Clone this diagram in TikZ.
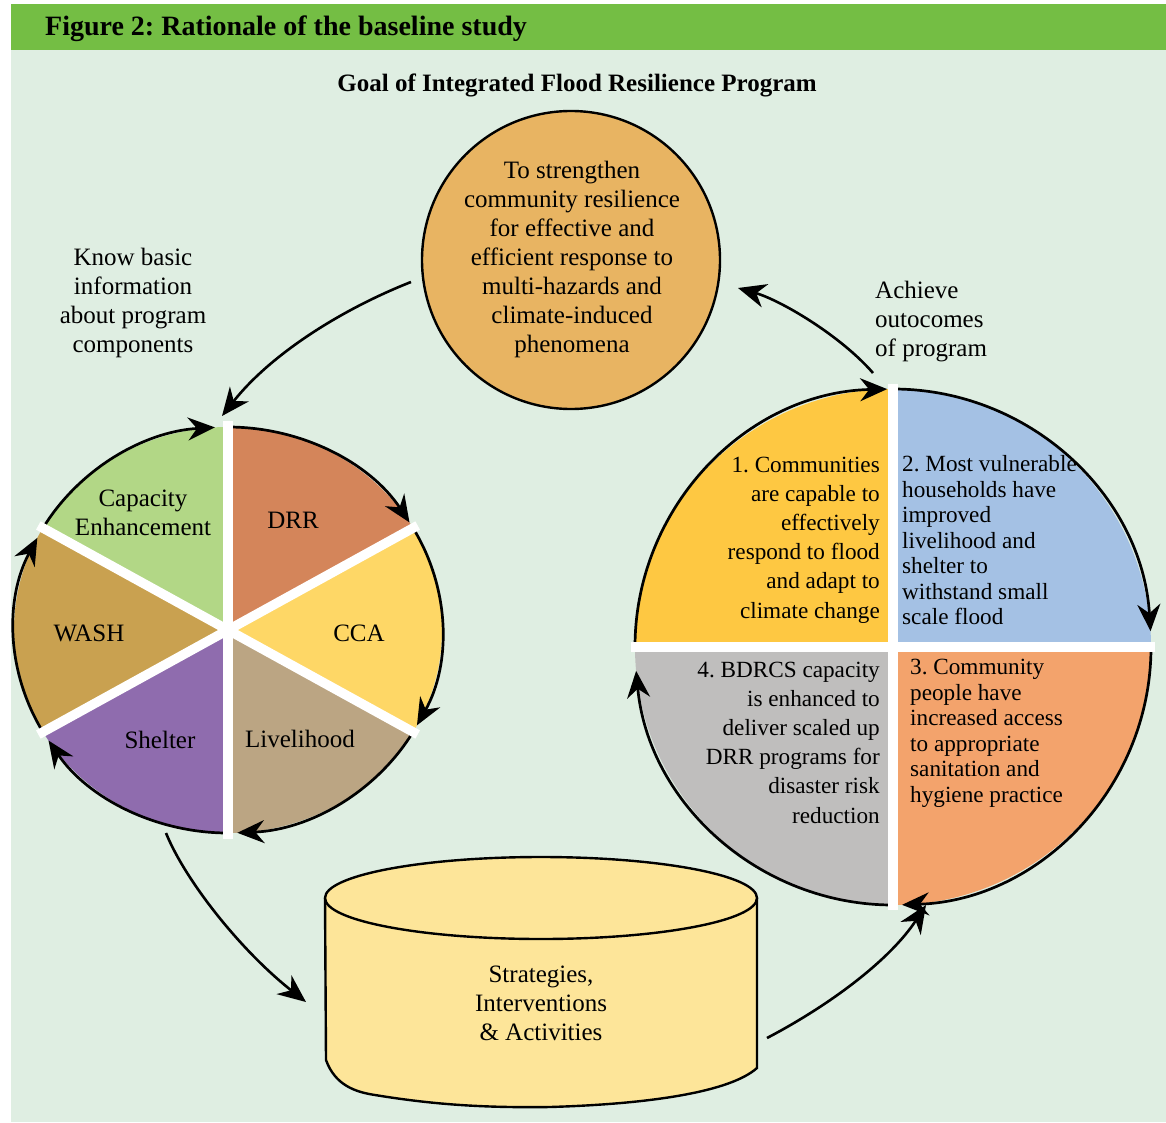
\documentclass[tikz,border=0pt]{standalone}
\usepackage{fontspec}
\setmainfont{Liberation Serif}
\usetikzlibrary{arrows.meta,calc}

\definecolor{hdr}{HTML}{74BE44}
\definecolor{bg}{HTML}{DFEEE2}
\definecolor{goalc}{HTML}{E8B462}
\definecolor{capc}{HTML}{B2D786}
\definecolor{drrc}{HTML}{D4855A}
\definecolor{ccac}{HTML}{FED766}
\definecolor{livc}{HTML}{BBA583}
\definecolor{shc}{HTML}{8F6CAE}
\definecolor{washc}{HTML}{C9A150}
\definecolor{qa}{HTML}{FEC842}
\definecolor{qb}{HTML}{A4C1E4}
\definecolor{qc}{HTML}{F3A36C}
\definecolor{qd}{HTML}{BFBEBD}
\definecolor{cylc}{HTML}{FDE599}

\frenchspacing
\begin{document}
\begin{tikzpicture}[x=1pt,y=1pt,
  body/.style={font=\fontsize{25}{29}\selectfont, inner sep=0pt, align=center},
  quad/.style={font=\fontsize{23.2}{29.2}\selectfont, inner sep=0pt},
  quadtight/.style={font=\fontsize{23.2}{25.5}\selectfont, inner sep=0pt, align=left},
  ring/.style={line width=2.7pt, -{Stealth[length=27pt,width=23pt,inset=9pt]}},
  link/.style={line width=2.6pt, -{Stealth[length=28pt,width=24pt,inset=9pt]}},
  spoke/.style={white, line width=9.5pt},
  outline/.style={draw=black, line width=2.4pt},
]
\useasboundingbox (0,0) rectangle (1166,-1123);
\fill[white] (0,0) rectangle (1166,-1123);
\fill[bg] (11,-50) rectangle (1166,-1122);
\fill[hdr] (11,-4) rectangle (1166,-50);

% headings
\node[anchor=base west, inner sep=0pt, font=\fontsize{28}{32}\selectfont\bfseries]
  (title) at (45,-36) {Figure 2: Rationale of the baseline study};
\node[anchor=base, inner sep=0pt, font=\fontsize{25}{29}\selectfont\bfseries]
  (goalhead) at (577,-92) {Goal of Integrated Flood Resilience Program};

% goal circle
\node[circle, outline, fill=goalc, minimum size=298pt, inner sep=0pt] (goal) at (571,-260) {};
\node[body] (goaltext) at (572,-259) {To strengthen\\community resilience\\for effective and\\efficient response to\\multi-hazards and\\climate-induced\\phenomena};

\node[body] (know) at (133,-302.5) {Know basic\\information\\about program\\components};
\node[body, align=left, anchor=west] (achieve) at (875,-322) {Achieve\\outocomes\\of program};

% program components pie
\coordinate (pc) at (228,-630);
\foreach \a/\c in {90/capc, 30/drrc, -30/ccac, -90/livc, -150/shc, 150/washc}
  \fill[\c] (pc) -- ++(\a:214 and 203)
    arc[start angle=\a, end angle=\a+60, x radius=214, y radius=203] -- cycle;
\foreach \s/\e in {150/93.5, 90/32, 30/-28, -30/-87.5, -90/-147, 210/153}
  \draw[ring] ($(pc)+(\s:214 and 203)$)
    arc[start angle=\s, end angle=\e, x radius=214, y radius=203];
\foreach \a in {90,30,150}
  \draw[spoke] ($(pc)+(\a:219 and 209)$) -- ($(pc)+(\a+180:219 and 209)$);

\node[body] (cap) at (143,-513) {Capacity\\Enhancement};
\node[body] (drr) at (293,-520) {DRR};
\node[body] (cca) at (359,-633) {CCA};
\node[body] (liv) at (300,-739) {Livelihood};
\node[body] (shelter) at (160,-740) {Shelter};
\node[body] (wash) at (89,-633) {WASH};

% outcomes circle
\coordinate (oc) at (893,-647);
\fill[qa] (oc) -- ++(180:258) arc[start angle=180, end angle=90, radius=258] -- cycle;
\fill[qb] (oc) -- ++(90:258) arc[start angle=90, end angle=0, radius=258] -- cycle;
\fill[qc] (oc) -- ++(0:258) arc[start angle=0, end angle=-90, radius=258] -- cycle;
\fill[qd] (oc) -- ++(-90:258) arc[start angle=-90, end angle=-180, radius=258] -- cycle;
\foreach \s/\e in {180/91.3, 90/3.5, 0/-88, -90/-174.7}
  \draw[ring] ($(oc)+(\s:258)$) arc[start angle=\s, end angle=\e, radius=258];
\draw[spoke, line width=10pt] ($(oc)+(0,263)$) -- ($(oc)+(0,-263)$);
\draw[spoke, line width=10pt] ($(oc)+(-262,0)$) -- ($(oc)+(262,0)$);

\node[quad, align=right, anchor=east] (out1) at (880,-540)
  {1. Communities\\are capable to\\effectively\\respond to flood\\and adapt to\\climate change};
\node[quadtight, anchor=west] (out2) at (902,-540.5)
  {2. Most vulnerable\\households have\\improved\\livelihood and\\shelter to\\withstand small\\scale flood};
\node[quadtight, anchor=west] (out3) at (910,-733.5)
  {3. Community\\people have\\increased access\\to appropriate\\sanitation and\\hygiene practice};
\node[quad, align=right, anchor=east] (out4) at (880,-742.5)
  {4. BDRCS capacity\\is enhanced to\\deliver scaled up\\DRR programs for\\disaster risk\\reduction};

% strategies cylinder
\filldraw[fill=cylc, line width=2.4pt] (325,-898) -- (326,-1060)
  .. controls (335,-1085) and (355,-1092) .. (375,-1095)
  .. controls (430,-1104) and (480,-1108) .. (550,-1107)
  .. controls (650,-1104) and (730,-1092) .. (757,-1068) -- (757,-898);
\filldraw[fill=cylc, line width=2.4pt] (541,-898) ellipse[x radius=216, y radius=41];
\node[body] (sia) at (541,-1003) {Strategies,\\Interventions\\\& Activities};

% cycle connectors
\coordinate (goal-out) at (411,-282);
\coordinate (pie-in) at (222,-416);
\coordinate (pie-out) at (166,-833);
\coordinate (sia-in) at (306,-1002);
\coordinate (sia-out) at (767,-1038);
\coordinate (res-in) at (926,-905);
\coordinate (res-out) at (873,-373);
\coordinate (goal-in) at (738,-288);

\draw[link] (goal-out) .. controls (340,-310) and (270,-355) .. (pie-in);
\draw[link] (pie-out) .. controls (185,-880) and (240,-950) .. (sia-in);
\draw[link] (sia-out) .. controls (830,-1005) and (890,-960) .. (res-in);
\draw[link] (res-out) .. controls (840,-335) and (780,-300) .. (goal-in);
\end{tikzpicture}
\end{document}
